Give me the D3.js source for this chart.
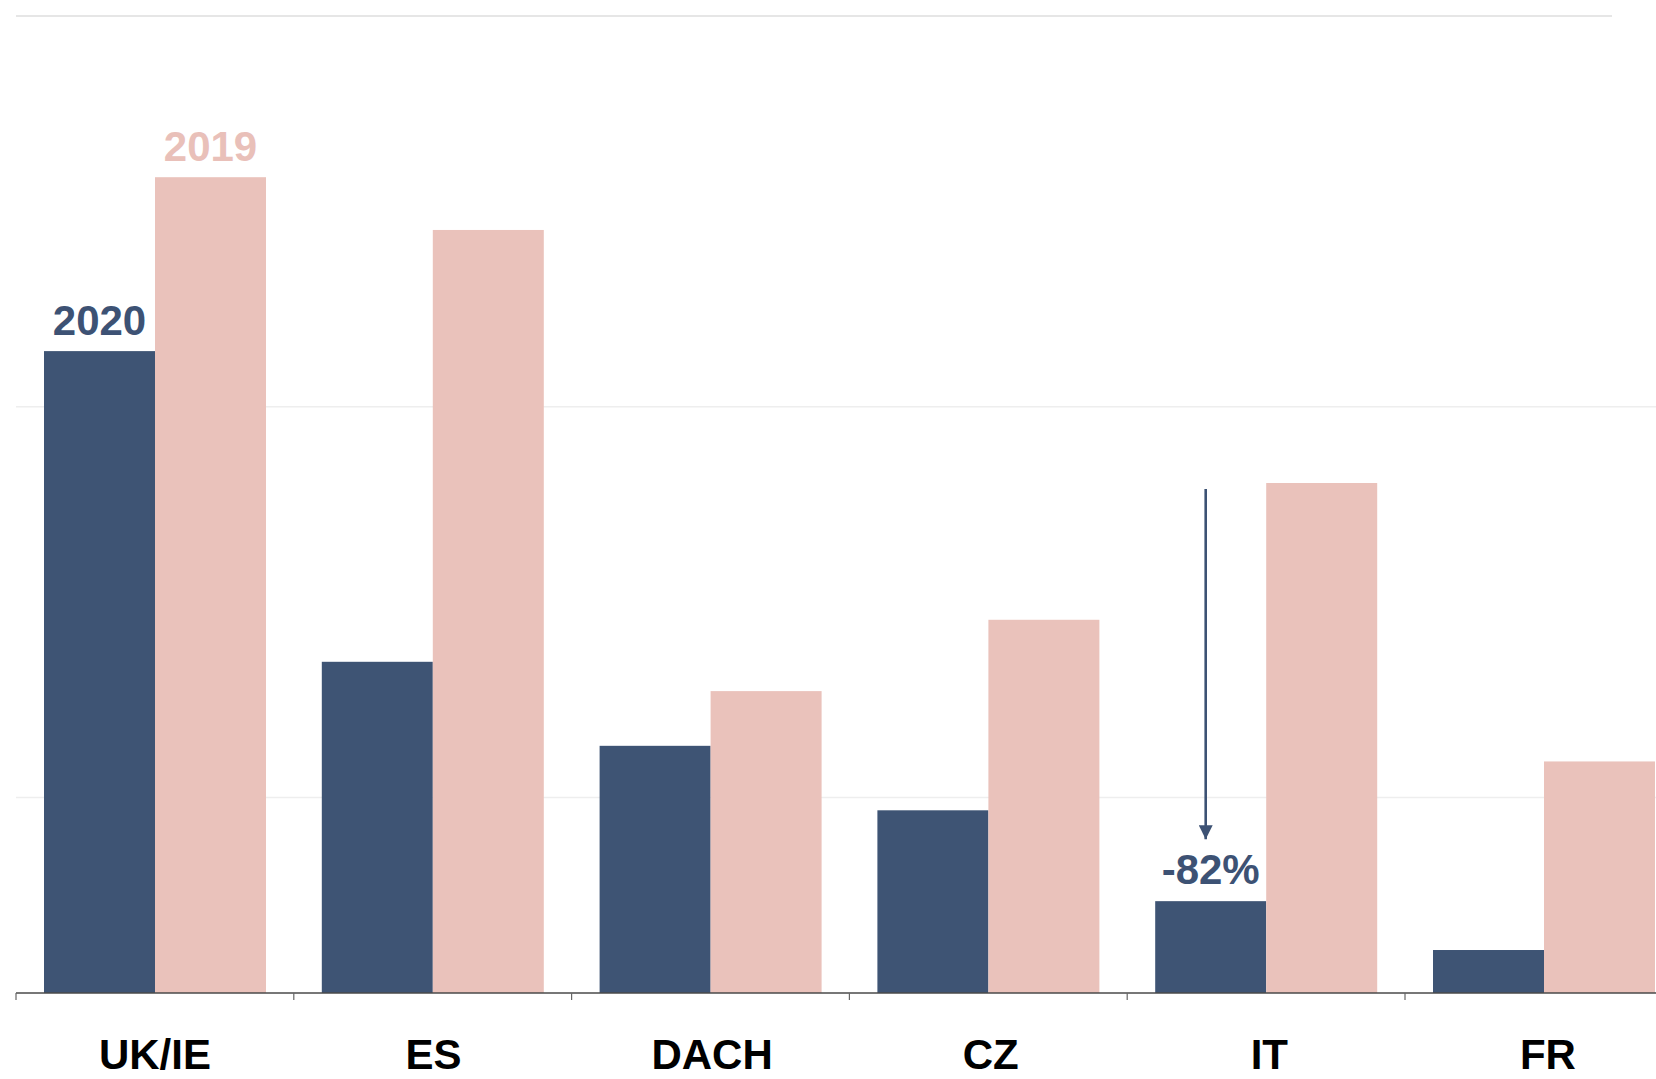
<!DOCTYPE html>
<html>
<head>
<meta charset="utf-8">
<script src="https://cdn.jsdelivr.net/npm/d3@7"></script>
<style>
  html, body { margin: 0; padding: 0; background: #fff; overflow: hidden; }
  svg { display: block; font-family: "Liberation Sans", Arial, sans-serif; }
</style>
</head>
<body>
<svg id="chart" width="1656" height="1079"></svg>
<script>
// data (arbitrary units, top gridline = 100)
const categories = ["UK/IE", "ES", "DACH", "CZ", "IT", "FR"];
const years = ["2020", "2019"];
const values2020 = [65.7, 33.9, 25.3, 18.7, 9.4, 4.4];
const values2019 = [83.5, 78.1, 30.9, 38.2, 52.2, 23.7];
const gridTicks = [20, 60, 100];
const dropLabel = "-82%";
const dropIndex = 4;

const colors = { "2020": "#3e5474", "2019": "#eac2bb" };
const labelColors = { "2020": "#3d5274", "2019": "#e9c0b9" };

const svg = d3.select("#chart");
const margin = { left: 16, top: 16, bottom: 86 },
    bandW = 277.8,
    height = +svg.attr("height") - margin.bottom;

const x0 = d3.scaleBand()
    .domain(categories)
    .range([margin.left, margin.left + bandW * categories.length])
    .padding(0);
const x1 = d3.scaleBand()
    .domain(years)
    .range([28, 250])
    .padding(0);
const y = d3.scaleLinear()
    .domain([0, 100])
    .range([height, margin.top]);

const rows = categories.map((c, i) => ({
    cat: c,
    bars: [{ year: "2020", v: values2020[i] }, { year: "2019", v: values2019[i] }]
}));

// gridlines
svg.append("g")
    .selectAll("line")
    .data(gridTicks)
    .join("line")
    .attr("x1", margin.left)
    .attr("x2", d => d === 100 ? 1612 : 1656)
    .attr("y1", d => y(d))
    .attr("y2", d => y(d))
    .attr("stroke", d => d === 100 ? "#e6e6e6" : "#eeeeee")
    .attr("stroke-width", d => d === 100 ? 2 : 1.5);

// bars
const groups = svg.append("g")
    .selectAll("g")
    .data(rows)
    .join("g")
    .attr("transform", d => `translate(${x0(d.cat)},0)`);

groups.selectAll("rect")
    .data(d => d.bars)
    .join("rect")
    .attr("x", d => x1(d.year))
    .attr("width", x1.bandwidth())
    .attr("y", d => y(d.v))
    .attr("height", d => y(0) - y(d.v))
    .attr("fill", d => colors[d.year]);

// x axis
const axis = svg.append("g")
    .attr("transform", `translate(0,${y(0)})`);
axis.append("line")
    .attr("x1", margin.left)
    .attr("x2", 1656)
    .attr("stroke", "#4a4a4a")
    .attr("stroke-width", 1.5);
axis.selectAll("line.tick")
    .data(categories)
    .join("line")
    .attr("class", "tick")
    .attr("x1", d => x0(d))
    .attr("x2", d => x0(d))
    .attr("y1", 0)
    .attr("y2", 7)
    .attr("stroke", "#666")
    .attr("stroke-width", 1.2);
axis.selectAll("text")
    .data(categories)
    .join("text")
    .attr("x", (d, i) => x0(d) + bandW / 2 + i * 0.8)
    .attr("y", 76)
    .attr("text-anchor", "middle")
    .attr("font-size", 42)
    .attr("font-weight", "bold")
    .attr("fill", "#000")
    .text(d => d);

// series labels above the first group
svg.append("g")
    .selectAll("text")
    .data(rows[0].bars)
    .join("text")
    .attr("x", d => x0(rows[0].cat) + x1(d.year) + x1.bandwidth() / 2)
    .attr("y", d => y(d.v) - 16)
    .attr("text-anchor", "middle")
    .attr("font-size", 42)
    .attr("font-weight", "bold")
    .attr("fill", d => labelColors[d.year])
    .text(d => d.year);

// drop annotation for IT
const cx = x0(categories[dropIndex]) + x1("2020") + x1.bandwidth() / 2;
svg.append("text")
    .attr("x", cx)
    .attr("y", y(values2020[dropIndex]) - 17)
    .attr("text-anchor", "middle")
    .attr("font-size", 42)
    .attr("font-weight", "bold")
    .attr("fill", labelColors["2020"])
    .text(dropLabel);

svg.append("defs").append("marker")
    .attr("id", "arrow")
    .attr("viewBox", "0 0 10 10")
    .attr("refX", 10)
    .attr("refY", 5)
    .attr("markerWidth", 15)
    .attr("markerHeight", 14)
    .attr("markerUnits", "userSpaceOnUse")
    .attr("orient", "auto")
  .append("path")
    .attr("d", "M0,0L10,5L0,10Z")
    .attr("fill", labelColors["2020"]);

const ax = cx - 5;
svg.append("line")
    .attr("x1", ax)
    .attr("x2", ax)
    .attr("y1", y(values2019[dropIndex]) + 6)
    .attr("y2", y(values2020[dropIndex]) - 62)
    .attr("stroke", labelColors["2020"])
    .attr("stroke-width", 2.6)
    .attr("marker-end", "url(#arrow)");
</script>
</body>
</html>
